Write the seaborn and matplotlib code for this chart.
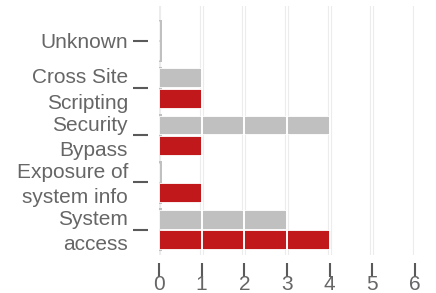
import matplotlib
matplotlib.use("Agg")
import matplotlib.pyplot as plt
import matplotlib.transforms as mtrans
import seaborn as sns
import pandas as pd

categories = ["Unknown", "Cross Site\nScripting", "Security\nBypass",
              "Exposure of\nsystem info", "System\naccess"]
series_names = ["Series A", "Series B"]
gray_values = [0, 1, 4, 0, 3]
red_values = [0, 1, 1, 1, 4]
x_ticks = [0, 1, 2, 3, 4, 5, 6]

df = pd.DataFrame({
    "category": categories * 2,
    "series": [series_names[0]] * len(categories) + [series_names[1]] * len(categories),
    "count": gray_values + red_values,
})

sns.set_theme(style="white")
plt.rcParams["font.family"] = ["Liberation Sans", "DejaVu Sans"]

GRAY = "#c0c0c0"
RED = "#c0181b"
TEXT = "#666666"
TICK = "#5a5a5a"

fig = plt.figure(figsize=(4.36, 2.93), dpi=100)
ax = fig.add_axes([159 / 436, 1 - 255 / 293, 256 / 436, 249 / 293])

sns.barplot(data=df, y="category", x="count", hue="series", order=categories,
            hue_order=series_names, palette=[GRAY, RED], saturation=1,
            width=0.86, gap=0.07, orient="h", legend=False, ax=ax,
            edgecolor="white", linewidth=0.6, zorder=2)

# thin gray strip at the start of each group
ax.barh(range(len(categories)), [0.065] * len(categories), height=0.9,
        left=0, color=GRAY, zorder=1.5, linewidth=0)

for t in x_ticks:
    ax.axvline(t, color="#ececec", lw=3.0, zorder=0)
    if t > 0:
        ax.axvline(t, color="white", lw=1.4, zorder=3)

ax.set_xlim(0, 6)
ax.set_ylim(4.54, -0.737)
ax.set_xticks(x_ticks)
ax.set_xlabel("")
ax.set_ylabel("")
for s in ax.spines.values():
    s.set_visible(False)
ax.spines["left"].set_position(("outward", 8))
ax.spines["bottom"].set_position(("outward", 6))

ax.tick_params(axis="y", left=True, length=10.8, width=1.5, color=TICK,
               pad=3.6, labelsize=15, labelcolor=TEXT)
ax.tick_params(axis="x", bottom=True, length=10, width=1.5, color=TICK,
               pad=-1.5, labelsize=15, labelcolor=TEXT)
shift = mtrans.ScaledTranslation(0, 2.5 / 100, fig.dpi_scale_trans)
for lab in ax.get_yticklabels():
    if "\n" in lab.get_text():
        lab.set_linespacing(1.42)
        lab.set_transform(lab.get_transform() + shift)
ax.set_facecolor("white")
fig.patch.set_facecolor("white")

fig.savefig("out.png", dpi=100)
